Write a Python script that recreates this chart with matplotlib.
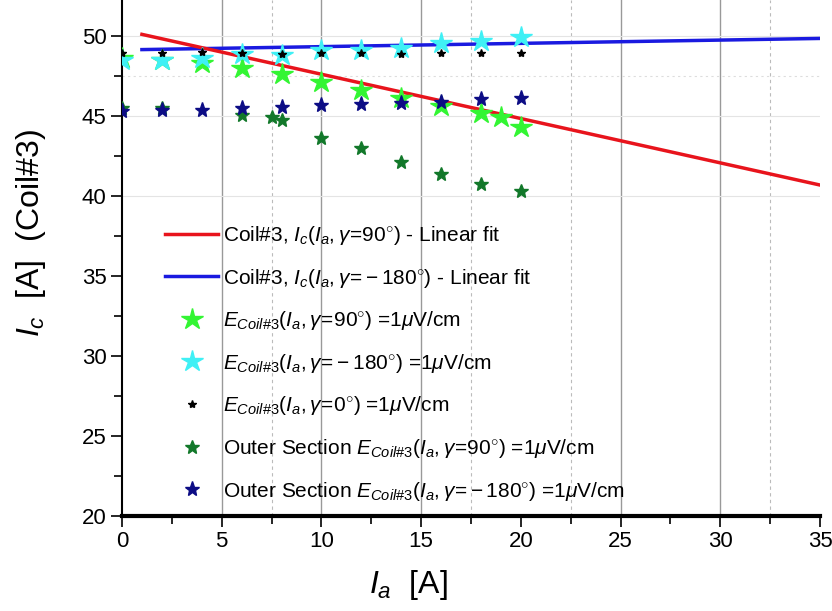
'''
Critical current of Coil#3 versus applied current I_a, with linear fits.
'''
import numpy as np
import matplotlib.pyplot as plt

plt.rcParams['font.family'] = ['Liberation Sans', 'DejaVu Sans']
plt.rcParams['mathtext.fontset'] = 'custom'
plt.rcParams['mathtext.rm'] = 'Liberation Sans'
plt.rcParams['mathtext.it'] = 'Liberation Sans:italic'
plt.rcParams['mathtext.bf'] = 'Liberation Sans:bold'

# Data
ia_90 = [0, 2, 4, 6, 8, 10, 12, 14, 16, 18, 19, 20]
ic_90 = [48.6, 48.5, 48.3, 48.0, 47.6, 47.1, 46.6, 46.1, 45.6, 45.2, 44.95, 44.3]

ia_180 = [0, 2, 4, 6, 8, 10, 12, 14, 16, 18, 20]
ic_180 = [48.5, 48.5, 48.6, 48.9, 48.8, 49.1, 49.1, 49.25, 49.55, 49.7, 49.95]

ia_0 = [0, 2, 4, 6, 8, 10, 12, 14, 16, 18, 20]
ic_0 = [48.95, 48.95, 49.0, 48.95, 48.9, 48.95, 48.95, 48.9, 48.95, 48.95, 48.95]

ia_out90 = [0, 2, 6, 7.5, 8, 10, 12, 14, 16, 18, 20]
ic_out90 = [45.5, 45.5, 45.05, 44.95, 44.75, 43.6, 43.0, 42.1, 41.4, 40.75, 40.3]

ia_out180 = [0, 2, 4, 6, 8, 10, 12, 14, 16, 18, 20]
ic_out180 = [45.3, 45.4, 45.4, 45.5, 45.55, 45.7, 45.75, 45.8, 45.9, 46.05, 46.1]

# linear fits: (intercept, slope), drawn from x=1 to x=35
fit_range = [1, 35]
fit_90 = (50.38, -0.277)
fit_180 = (49.13, 0.0205)

labels = [
    r'Coil#3, $I_c(I_a,\gamma\!=\!90^{\circ})$ - Linear fit',
    r'Coil#3, $I_c(I_a,\gamma\!=\!-180^{\circ})$ - Linear fit',
    r'$E_{Coil\#3}(I_a,\gamma\!=\!90^{\circ})$ =1$\mu$V/cm',
    r'$E_{Coil\#3}(I_a,\gamma\!=\!-180^{\circ})$ =1$\mu$V/cm',
    r'$E_{Coil\#3}(I_a,\gamma\!=\!0^{\circ})$ =1$\mu$V/cm',
    r'Outer Section $E_{Coil\#3}(I_a,\gamma\!=\!90^{\circ})$ =1$\mu$V/cm',
    r'Outer Section $E_{Coil\#3}(I_a,\gamma\!=\!-180^{\circ})$ =1$\mu$V/cm',
]

fig = plt.figure(figsize=(8.32, 6.11), dpi=100)
ax = fig.add_axes([0.1466, 0.1555, 0.839, 0.8445])

# grid
for xv in [5, 10, 15, 25, 30]:
    ax.axvline(xv, color='#999999', lw=1.0, zorder=0)
for xv in [7.5, 17.5, 22.5, 32.5]:
    ax.axvline(xv, color='#bbbbbb', lw=0.8, ls=(0, (3, 3)), zorder=0)
for yv in [40, 45, 50]:
    ax.axhline(yv, color='#e4e4e4', lw=0.8, zorder=0)
ax.axhline(47.5, color='#dddddd', lw=0.8, ls=(0, (2, 3)), zorder=0)

xf = np.array(fit_range, dtype=float)
ax.plot(xf, fit_90[0] + fit_90[1] * xf, color='#e8141c', lw=2.5, label=labels[0], zorder=3)
ax.plot(xf, fit_180[0] + fit_180[1] * xf, color='#1a1ae0', lw=2.5, label=labels[1], zorder=2)

ax.plot(ia_90, ic_90, ls='none', marker='*', ms=16, color='#33f533', mec='#33f533',
        label=labels[2], zorder=4)
ax.plot(ia_180, ic_180, ls='none', marker='*', ms=16, color='#3ff0f5', mec='#3ff0f5',
        label=labels[3], zorder=4)
ax.plot(ia_0, ic_0, ls='none', marker='*', ms=6, color='black', label=labels[4], zorder=5)
ax.plot(ia_out90, ic_out90, ls='none', marker='*', ms=10, color='#12782a', label=labels[5], zorder=4)
ax.plot(ia_out180, ic_out180, ls='none', marker='*', ms=11, color='#0c0c85', label=labels[6], zorder=4)

ax.set_xlim(0, 35)
ax.set_ylim(20, 52.25)
ax.set_xticks(np.arange(0, 36, 5))
ax.set_xticks(np.arange(0, 36, 2.5), minor=True)
ax.set_yticks(np.arange(20, 51, 5))
ax.set_yticks(np.arange(20, 51, 2.5), minor=True)
ax.tick_params(which='major', direction='out', length=8, width=1.2, labelsize=16, pad=3)
ax.tick_params(which='minor', direction='out', length=6, width=1.2)

for s in ['top', 'right']:
    ax.spines[s].set_visible(False)
ax.spines['left'].set_linewidth(1.5)
ax.spines['bottom'].set_linewidth(3)

ax.set_xlabel(r'$I_a$  [A]', fontsize=23, va='center')
ax.xaxis.set_label_coords(0.41, -0.134)
ax.set_ylabel(r'$I_c$  [A]  (Coil#3)', fontsize=23, va='center')
ax.yaxis.set_label_coords(-0.131, 0.548)

ax.legend(loc='center left', bbox_to_anchor=(0.062, 0.296), frameon=False,
          fontsize=15, borderpad=0, borderaxespad=0, handlelength=2.55,
          handletextpad=0.24, labelspacing=0.94)

plt.savefig('out.png', dpi=100)
plt.close()
